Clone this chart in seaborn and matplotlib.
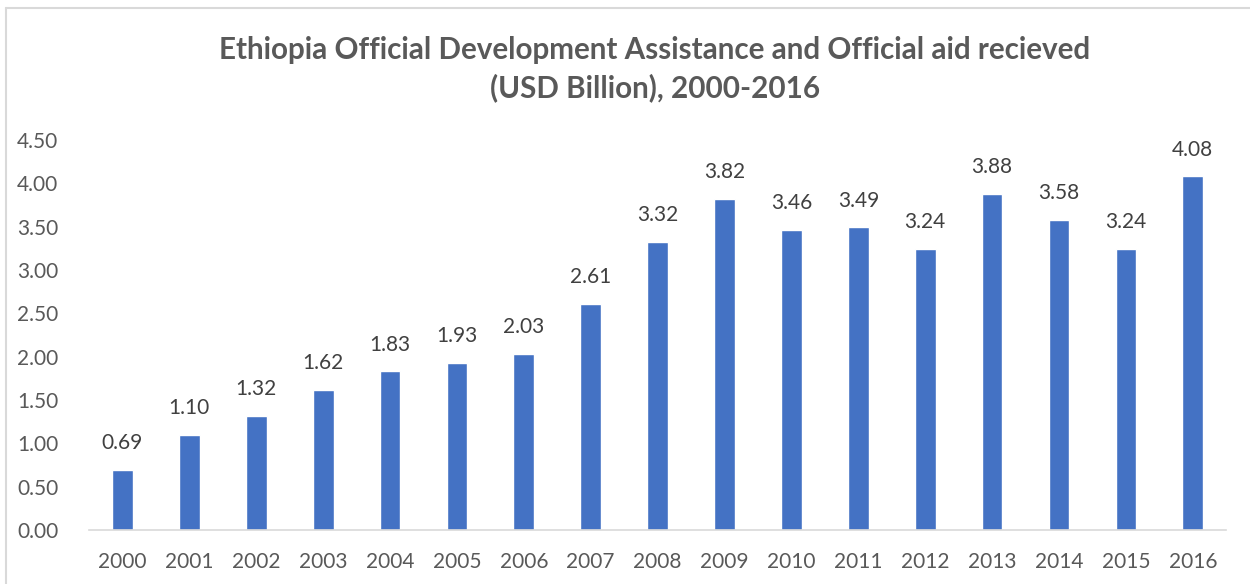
import matplotlib
matplotlib.use("Agg")
import matplotlib.pyplot as plt
from matplotlib.lines import Line2D
import seaborn as sns
import pandas as pd

years = [str(y) for y in range(2000, 2017)]
oda_billion = [0.69, 1.10, 1.32, 1.62, 1.83, 1.93, 2.03, 2.61, 3.32, 3.82,
               3.46, 3.49, 3.24, 3.88, 3.58, 3.24, 4.08]
y_ticks = [0.0, 0.5, 1.0, 1.5, 2.0, 2.5, 3.0, 3.5, 4.0, 4.5]

title_text = ("Ethiopia Official Development Assistance and Official aid recieved\n"
              "(USD Billion), 2000-2016")

sns.set_theme(style="white")
plt.rcParams["font.family"] = ["Lato", "DejaVu Sans"]

df = pd.DataFrame({"year": years, "oda": oda_billion})

fig = plt.figure(figsize=(12.5, 5.84), dpi=100)
ax = fig.add_axes([0.0712, 0.0925, 0.9098, 0.668])

sns.barplot(data=df, x="year", y="oda", color="#4472C4", width=0.31,
            saturation=1, ax=ax)

ax.set_xlim(-0.5, len(years) - 0.5)
ax.set_ylim(0, 4.5)
ax.set_yticks(y_ticks)
ax.set_yticklabels([f"{v:.2f}" for v in y_ticks])
ax.set_xlabel("")
ax.set_ylabel("")
ax.tick_params(axis="both", length=0, labelsize=15, colors="#595959")
ax.tick_params(axis="y", pad=22)
ax.tick_params(axis="x", pad=16)

for side in ["top", "right", "left"]:
    ax.spines[side].set_visible(False)
ax.spines["bottom"].set_color("#d9d9d9")
ax.spines["bottom"].set_linewidth(1.2)

for container in ax.containers:
    ax.bar_label(container, fmt="%.2f", padding=12, fontsize=15, color="#404040")

fig.text(0.524, 0.939, title_text, ha="center", va="top", fontsize=21.3,
         fontweight="bold", color="#595959", linespacing=1.39)

# chart frame edges
fig.add_artist(Line2D([0.0048, 0.0048], [0, 0.986], transform=fig.transFigure,
                      color="#d9d9d9", linewidth=1.5))
fig.add_artist(Line2D([0.0048, 1.0], [0.986, 0.986], transform=fig.transFigure,
                      color="#d9d9d9", linewidth=1.5))

fig.savefig("out.png", dpi=100, facecolor="white")
